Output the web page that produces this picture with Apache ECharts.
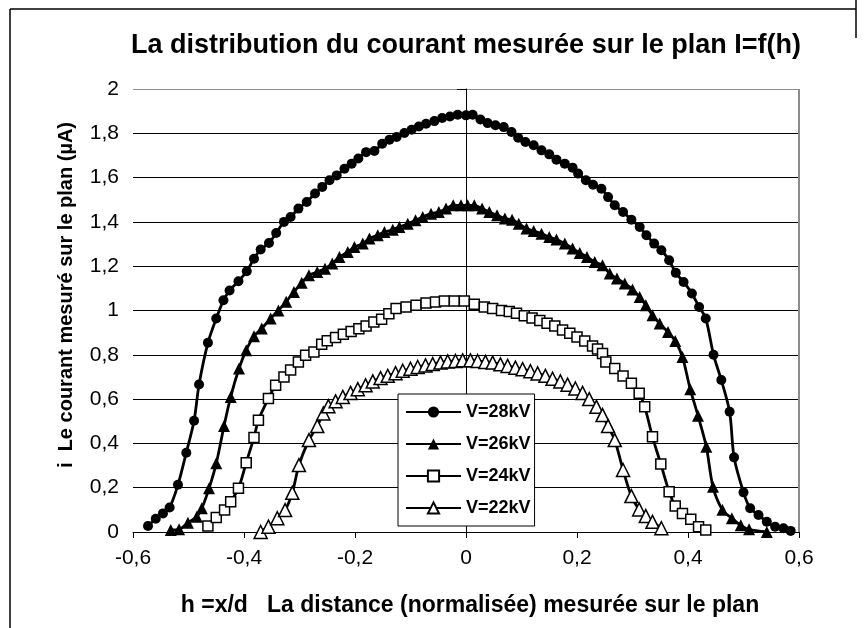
<!DOCTYPE html>
<html>
<head>
<meta charset="utf-8">
<script src="https://cdn.jsdelivr.net/npm/echarts@6/dist/echarts.min.js"></script>
<style>
  html, body { margin: 0; padding: 0; background: #fff; }
  #chart { width: 866px; height: 628px; }
</style>
</head>
<body>
<div id="chart"></div>
<script>
// Normalised position h = x/d and measured current i (µA) for each voltage
const h28 = [-0.573,-0.559,-0.546,-0.534,-0.519,-0.504,-0.490,-0.481,-0.465,-0.450,-0.437,-0.426,-0.410,-0.395,-0.382,-0.370,-0.355,-0.342,-0.328,-0.316,-0.302,-0.287,-0.272,-0.259,-0.246,-0.233,-0.219,-0.206,-0.194,-0.180,-0.165,-0.151,-0.138,-0.125,-0.111,-0.098,-0.085,-0.072,-0.057,-0.043,-0.029,-0.015,0.000,0.012,0.026,0.039,0.053,0.068,0.082,0.094,0.107,0.122,0.136,0.150,0.163,0.178,0.192,0.202,0.216,0.229,0.244,0.256,0.268,0.283,0.298,0.313,0.325,0.339,0.352,0.366,0.378,0.392,0.407,0.420,0.432,0.446,0.460,0.475,0.483,0.500,0.512,0.527,0.542,0.557,0.572,0.585];
const i28 = [0.027,0.060,0.084,0.111,0.213,0.358,0.502,0.666,0.854,0.964,1.046,1.090,1.132,1.177,1.234,1.275,1.305,1.350,1.400,1.422,1.460,1.490,1.528,1.558,1.588,1.610,1.640,1.663,1.686,1.715,1.720,1.753,1.771,1.783,1.801,1.816,1.831,1.843,1.855,1.869,1.876,1.884,1.881,1.884,1.862,1.846,1.836,1.828,1.806,1.780,1.761,1.746,1.723,1.705,1.681,1.663,1.645,1.618,1.588,1.568,1.550,1.512,1.475,1.445,1.410,1.377,1.340,1.302,1.272,1.227,1.170,1.129,1.077,1.016,0.964,0.800,0.686,0.543,0.337,0.179,0.107,0.077,0.046,0.024,0.017,0.005];

const h26 = [-0.532,-0.517,-0.501,-0.485,-0.476,-0.463,-0.450,-0.436,-0.424,-0.409,-0.396,-0.382,-0.368,-0.352,-0.338,-0.324,-0.310,-0.296,-0.283,-0.268,-0.254,-0.241,-0.228,-0.213,-0.201,-0.186,-0.174,-0.159,-0.147,-0.132,-0.120,-0.105,-0.091,-0.078,-0.063,-0.049,-0.036,-0.023,-0.009,0.003,0.015,0.029,0.042,0.056,0.070,0.083,0.095,0.109,0.122,0.136,0.150,0.163,0.178,0.192,0.205,0.218,0.232,0.246,0.259,0.272,0.286,0.300,0.313,0.324,0.336,0.349,0.364,0.377,0.390,0.404,0.418,0.433,0.445,0.462,0.479,0.495,0.510,0.542];
const i26 = [0.009,0.012,0.042,0.069,0.107,0.197,0.310,0.478,0.610,0.738,0.821,0.884,0.919,0.964,1.000,1.040,1.084,1.125,1.159,1.174,1.189,1.212,1.242,1.264,1.287,1.302,1.325,1.340,1.354,1.365,1.377,1.392,1.407,1.422,1.437,1.445,1.460,1.475,1.475,1.475,1.475,1.460,1.445,1.430,1.415,1.410,1.392,1.370,1.359,1.347,1.332,1.320,1.302,1.280,1.260,1.242,1.219,1.204,1.167,1.144,1.122,1.095,1.061,1.024,0.979,0.941,0.903,0.862,0.790,0.645,0.525,0.385,0.204,0.100,0.062,0.030,0.012,0.000];

const h24 = [-0.465,-0.450,-0.435,-0.424,-0.410,-0.396,-0.382,-0.374,-0.356,-0.343,-0.328,-0.316,-0.302,-0.289,-0.274,-0.260,-0.250,-0.235,-0.221,-0.207,-0.193,-0.180,-0.166,-0.152,-0.139,-0.126,-0.108,-0.090,-0.072,-0.055,-0.039,-0.021,-0.003,0.015,0.033,0.048,0.064,0.078,0.091,0.105,0.119,0.133,0.146,0.160,0.174,0.187,0.200,0.214,0.228,0.237,0.246,0.252,0.268,0.283,0.298,0.312,0.322,0.336,0.351,0.366,0.377,0.390,0.405,0.419,0.432];
const i24 = [0.027,0.066,0.099,0.137,0.197,0.313,0.427,0.505,0.603,0.663,0.700,0.731,0.768,0.798,0.813,0.848,0.863,0.878,0.893,0.905,0.918,0.930,0.948,0.960,0.985,1.009,1.016,1.024,1.034,1.038,1.043,1.043,1.043,1.028,1.016,1.009,1.000,0.995,0.988,0.976,0.966,0.955,0.942,0.930,0.912,0.897,0.880,0.862,0.840,0.826,0.806,0.768,0.738,0.704,0.671,0.626,0.565,0.430,0.307,0.182,0.117,0.084,0.057,0.024,0.009];

const h22 = [-0.370,-0.356,-0.340,-0.326,-0.313,-0.301,-0.283,-0.268,-0.257,-0.248,-0.235,-0.222,-0.208,-0.195,-0.181,-0.168,-0.154,-0.141,-0.127,-0.114,-0.100,-0.087,-0.073,-0.060,-0.046,-0.033,-0.019,-0.006,0.008,0.021,0.035,0.048,0.062,0.075,0.089,0.102,0.116,0.129,0.143,0.156,0.170,0.183,0.197,0.210,0.222,0.235,0.246,0.256,0.268,0.283,0.298,0.312,0.324,0.336,0.352];
const i22 = [0.000,0.024,0.062,0.099,0.177,0.302,0.415,0.478,0.535,0.568,0.590,0.610,0.628,0.645,0.662,0.680,0.695,0.705,0.717,0.728,0.737,0.745,0.752,0.758,0.765,0.770,0.772,0.775,0.775,0.772,0.768,0.765,0.757,0.750,0.742,0.735,0.726,0.716,0.705,0.692,0.680,0.665,0.648,0.628,0.600,0.565,0.528,0.478,0.415,0.280,0.162,0.102,0.072,0.046,0.017];

const seriesNames = ['V=28kV', 'V=26kV', 'V=24kV', 'V=22kV'];
const xTickLabels = ['-0,6', '-0,4', '-0,2', '0', '0,2', '0,4', '0,6'];
const yTickLabels = ['0', '0,2', '0,4', '0,6', '0,8', '1', '1,2', '1,4', '1,6', '1,8', '2'];

const FONT = '"Liberation Sans", Arial, sans-serif';

function pairs(xs, ys) { return xs.map((x, k) => [x, ys[k]]); }

const markerStyles = [
  { symbol: 'circle',   symbolSize: 10, itemStyle: { color: '#000', borderColor: '#000', borderWidth: 0 } },
  { symbol: 'triangle', symbolSize: 12, itemStyle: { color: '#000', borderColor: '#000', borderWidth: 0 } },
  { symbol: 'rect',     symbolSize: 10, itemStyle: { color: '#fff', borderColor: '#000', borderWidth: 1.5 } },
  { symbol: 'triangle', symbolSize: 13, itemStyle: { color: '#fff', borderColor: '#000', borderWidth: 1.5 } }
];
const dataSets = [pairs(h28, i28), pairs(h26, i26), pairs(h24, i24), pairs(h22, i22)];

const series = dataSets.map((d, k) => Object.assign({
  name: seriesNames[k],
  type: 'line',
  data: d,
  smooth: 0.3,
  showAllSymbol: true,
  lineStyle: { color: '#000', width: 2.8 },
  emphasis: { disabled: true },
  animation: false
}, markerStyles[k]));

const ySplitColors = yTickLabels.map((_, k) => k === yTickLabels.length - 1 ? '#8c8c8c' : '#000');
const xSplitColors = xTickLabels.map((_, k) => k === xTickLabels.length - 1 ? '#8c8c8c' : 'rgba(0,0,0,0)');

const chart = echarts.init(document.getElementById('chart'), null, { renderer: 'canvas' });
chart.setOption({
  backgroundColor: '#fff',
  animation: false,
  textStyle: { fontFamily: FONT },
  grid: { left: 133, right: 67, top: 89, bottom: 96, containLabel: false },
  xAxis: {
    type: 'value', min: -0.6, max: 0.6, interval: 0.2,
    axisLine: { onZero: false, lineStyle: { color: '#000', width: 1 } },
    axisTick: { show: true, inside: false, length: 6, lineStyle: { color: '#000' } },
    axisLabel: { margin: 16, color: '#000', fontSize: 21, fontFamily: FONT,
      formatter: (v, idx) => xTickLabels[idx] },
    splitLine: { show: true, lineStyle: { color: xSplitColors, width: 2 } }
  },
  yAxis: {
    type: 'value', min: 0, max: 2, interval: 0.2,
    axisLine: { show: true, lineStyle: { color: '#000', width: 1 } },
    axisTick: { show: true, inside: false, length: 9, lineStyle: { color: '#000' } },
    axisLabel: { margin: 14, color: '#000', fontSize: 21, fontFamily: FONT,
      formatter: (v, idx) => yTickLabels[idx] },
    splitLine: { show: true, showMinLine: true, showMaxLine: true, lineStyle: { color: ySplitColors, width: 1 } }
  },
  legend: {
    orient: 'vertical', left: 398, top: 394,
    data: seriesNames,
    backgroundColor: '#fff', borderColor: '#000', borderWidth: 1,
    padding: [9, 4, 9, 7],
    itemWidth: 55, itemHeight: 14, itemGap: 14,
    textStyle: { fontSize: 18, fontWeight: 'bold', color: '#000', fontFamily: FONT, lineHeight: 14 },
    selectedMode: false
  },
  graphic: [
    { type: 'line', shape: { x1: 10, y1: 9, x2: 10, y2: 628 }, style: { stroke: '#000', lineWidth: 1.5 } },
    { type: 'line', shape: { x1: 10, y1: 9, x2: 856, y2: 9 }, style: { stroke: '#000', lineWidth: 1.5 } },
    { type: 'line', shape: { x1: 856, y1: 0, x2: 856, y2: 38 }, style: { stroke: '#000', lineWidth: 1.5 } },
    { type: 'text', x: 466, y: 46,
      style: { text: 'La distribution du courant mesurée sur le plan I=f(h)', font: 'bold 27px ' + FONT,
        textAlign: 'center', textVerticalAlign: 'middle', fill: '#000' } },
    { type: 'text', x: 470, y: 606,
      style: { text: 'h =x/d   La distance (normalisée) mesurée sur le plan', font: 'bold 23px ' + FONT,
        textAlign: 'center', textVerticalAlign: 'middle', fill: '#000' } },
    { type: 'text', x: 66, y: 295, rotation: Math.PI / 2,
      style: { text: 'i  Le courant mesuré sur le plan (µA)', font: 'bold 20px ' + FONT,
        textAlign: 'center', textVerticalAlign: 'middle', fill: '#000' } }
  ],
  series: series
});
</script>
</body>
</html>
